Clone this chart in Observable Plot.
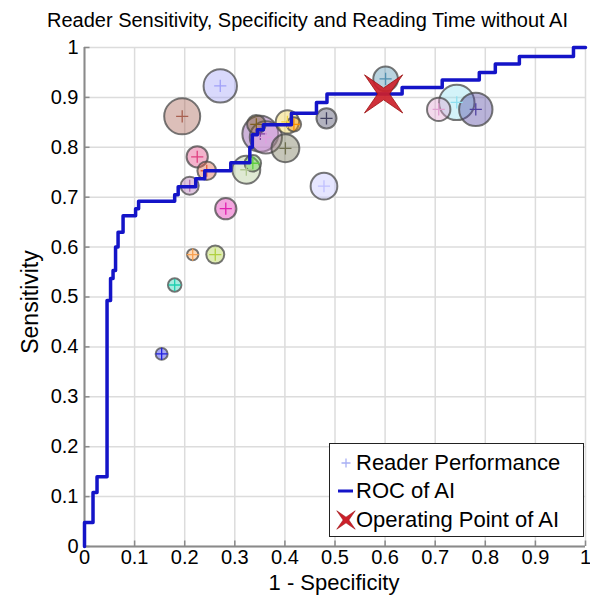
<!DOCTYPE html>
<html><head><meta charset="utf-8">
<script src="https://cdn.jsdelivr.net/npm/d3@7"></script>
<script src="https://cdn.jsdelivr.net/npm/@observablehq/plot@0.6"></script>
<style>
body{margin:0;background:#fff;font-family:"Liberation Sans",Arial,sans-serif;}
#wrap{position:relative;width:590px;height:596px;overflow:hidden;}
#title{height:40px;position:relative;}
#title span{position:absolute;left:47px;top:9px;font-size:20px;line-height:22px;white-space:nowrap;color:#000;}
#ylab{position:absolute;left:30px;top:302px;transform:translate(-50%,-50%) rotate(-90deg);font-size:23px;line-height:24px;white-space:nowrap;}
#xlab{position:absolute;left:334px;top:583px;transform:translate(-50%,-50%);font-size:22px;line-height:22px;white-space:nowrap;}
#legend{position:absolute;left:329px;top:443px;width:253px;height:92px;border:1.5px solid #222;background:#fff;}
#legend .t{position:absolute;left:26px;font-size:22px;line-height:26px;white-space:nowrap;}
#legend svg{position:absolute;left:0;top:0;}
</style></head>
<body>
<div id="wrap">
<div id="title"><span>Reader Sensitivity, Specificity and Reading Time without AI</span></div>
<div id="chart"></div>
<div id="ylab">Sensitivity</div>
<div id="xlab">1 - Specificity</div>
<div id="legend">
<svg width="40" height="92">
<path d="M16,14.5 V23.5 M11.5,19 H20.5" stroke="#a8b0f4" stroke-width="1.3"/>
<line x1="8" y1="47" x2="23" y2="47" stroke="#1414c8" stroke-width="3"/>
<path id="lgx" fill="#cc1f2a" stroke="#9a1010" stroke-width="0.6"/>
</svg>
<div class="t" style="top:6px">Reader Performance</div>
<div class="t" style="top:34px">ROC of AI</div>
<div class="t" style="top:63px">Operating Point of AI</div>
</div>
</div>
<script>
// Reader performance without AI
const readerIds = ["R1","R2","R3","R4","R5","R6","R7","R8","R9","R10","R11","R12","R13","R14","R15","R16","R17","R18","R19","R20","R21","R22","R23","R24"];
const readerFpr = [0.271,0.195,0.225,0.244,0.210,0.282,0.323,0.336,0.351,0.362,0.343,0.405,0.418,0.401,0.483,0.478,0.216,0.261,0.180,0.154,0.601,0.707,0.743,0.781];
const readerSens = [0.923,0.862,0.781,0.753,0.723,0.677,0.755,0.768,0.827,0.820,0.846,0.851,0.846,0.798,0.858,0.722,0.585,0.585,0.524,0.386,0.937,0.876,0.890,0.876];
const readerTime = [86,100,35,27,25,35,60,21,100,80,27,42,16,60,31,55,10,25,14,11,47,42,97,86];
const readerColors = ["#a0a0f8","#a86050","#e04080","#e06040","#b070b0","#e020b0","#b0c890","#60d040","#8040a0","#e0a0e0","#806020","#f0d040","#f89000","#707050","#404060","#c0c0ff","#f8a050","#b0d040","#20d0b0","#2020e0","#5090b0","#e0a0d0","#90e0f0","#5040a0"];

// ROC of AI (corner points, step-before)
const rocFpr = [0,0.017,0.025,0.045,0.052,0.057,0.062,0.067,0.077,0.102,0.108,0.180,0.187,0.222,0.240,0.292,0.330,0.335,0.345,0.357,0.413,0.463,0.484,0.634,0.714,0.788,0.820,0.868,0.976,1.0];
const rocTpr = [0,0.048,0.108,0.140,0.493,0.537,0.553,0.600,0.630,0.663,0.677,0.692,0.705,0.721,0.737,0.753,0.769,0.800,0.825,0.835,0.845,0.868,0.890,0.907,0.920,0.935,0.950,0.967,0.982,1.0];

// Operating point of AI
const opFpr = [0.597];
const opTpr = [0.907];

const xTickValues = [0,0.1,0.2,0.3,0.4,0.5,0.6,0.7,0.8,0.9,1];
const yTickValues = [0,0.1,0.2,0.3,0.4,0.5,0.6,0.7,0.8,0.9,1];

const readers = readerIds.map((id,i)=>({id, fpr: readerFpr[i], sens: readerSens[i], time: readerTime[i]}));
const roc = rocFpr.map((f,i)=>({fpr: f, tpr: rocTpr[i]}));
const op = opFpr.map((f,i)=>({fpr: f, tpr: opTpr[i]}));

function starPath(context, R){
  const r = R*0.22;
  for(let i=0;i<8;i++){
    const a = Math.PI/4 + i*Math.PI/4;
    const rad = i%2===0 ? R : r;
    const x = rad*Math.cos(a), y = rad*Math.sin(a);
    if(i===0) context.moveTo(x,y); else context.lineTo(x,y);
  }
  context.closePath();
}
const starX = { draw(context, size){ starPath(context, Math.sqrt(size/Math.PI)); } };

const fmt = d3.format("~g");
const axisStroke = "#8a8a8a";

const chart = Plot.plot({
  width: 590, height: 556,
  marginLeft: 84, marginRight: 5, marginTop: 7, marginBottom: 50,
  x: {domain: [0,1], label: null},
  y: {domain: [0,1], label: null},
  r: {domain: [0,100], range: [0,18]},
  color: {domain: readerIds, range: readerColors},
  style: {fontFamily: "Liberation Sans, Arial, sans-serif", fontSize: "20px", color: "#000", background: "transparent", overflow: "visible"},
  marks: [
    Plot.gridX(xTickValues, {stroke: "#dcdcdc", strokeOpacity: 1, strokeWidth: 1.5}),
    Plot.gridY(yTickValues, {stroke: "#dcdcdc", strokeOpacity: 1, strokeWidth: 1.5}),
    Plot.ruleX([0], {stroke: axisStroke, strokeWidth: 2}),
    Plot.ruleY([0], {stroke: axisStroke, strokeWidth: 2}),
    Plot.ruleX(xTickValues, {x: d=>d, y1: 0, y2: 0.011, stroke: axisStroke, strokeWidth: 1.5}),
    Plot.ruleY(yTickValues, {y: d=>d, x1: 0, x2: 0.011, stroke: axisStroke, strokeWidth: 1.5}),
    Plot.axisX(xTickValues, {tickSize: 0, tickPadding: 3, tickFormat: fmt, label: null, fill: "#000"}),
    Plot.axisY(yTickValues, {tickSize: 0, tickPadding: 6, tickFormat: fmt, label: null, fill: "#000"}),
    Plot.dot(readers, {x: "fpr", y: "sens", r: "time", fill: "id", fillOpacity: 0.4, stroke: "#4a4a4a", strokeOpacity: 0.75, strokeWidth: 2}),
    Plot.dot(readers, {x: "fpr", y: "sens", symbol: "plus", r: 4, stroke: "id", strokeWidth: 1.3}),
    Plot.line(roc, {x: "fpr", y: "tpr", curve: "step-before", stroke: "#1414c8", strokeWidth: 3.5}),
    Plot.dot(op, {x: "fpr", y: "tpr", symbol: starX, r: 27, fill: "#cc1f2a", fillOpacity: 0.92, stroke: "#9a1010", strokeWidth: 0.8})
  ]
});
document.getElementById("chart").appendChild(chart);

// legend X icon
const p = d3.path();
starPath({moveTo:(x,y)=>p.moveTo(x+16,y+76), lineTo:(x,y)=>p.lineTo(x+16,y+76), closePath:()=>p.closePath()}, 13);
document.getElementById("lgx").setAttribute("d", p.toString());
</script>
</body></html>
